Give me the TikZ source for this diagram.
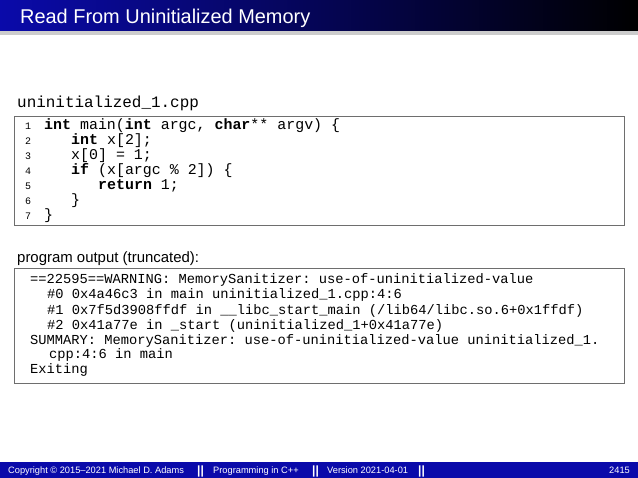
\documentclass[tikz,border=0pt]{standalone}
\usepackage{fontspec}
\setmainfont{Liberation Sans}
\setmonofont{Liberation Mono}
\definecolor{barblue}{RGB}{10,10,170}
\definecolor{boxgray}{RGB}{110,110,110}
\tikzset{
  codetxt/.style={anchor=base west,inner sep=0pt,font=\fontsize{15}{15}\ttfamily},
  outtxt/.style={anchor=base west,inner sep=0pt,font=\fontsize{13.8}{15}\ttfamily},
  lnum/.style={anchor=base west,inner sep=0pt,font=\fontsize{10}{10}\ttfamily},
  box/.style={draw=boxgray,line width=0.9bp},
  foot/.style={anchor=base west,inner sep=0pt,text=white,font=\fontsize{9.3}{10}\selectfont},
  sep/.style={anchor=base west,inner sep=0pt,text=white,font=\fontsize{12}{12}\bfseries}
}
\begin{document}
\begin{tikzpicture}[x=1bp,y=-1bp]
\useasboundingbox (0,0) rectangle (638,478);
% title bar
\fill[gray!40] (0,31) rectangle (638,35);
\shade[left color=barblue,right color=black] (0,0) rectangle (638,31);
\node[anchor=base west,inner sep=0pt,text=white,font=\fontsize{20}{22}\selectfont] (title) at (20,24) {Read From Uninitialized Memory};
% filename
\node[anchor=base west,inner sep=0pt,font=\fontsize{16}{18}\ttfamily] (fname) at (17,108) {uninitialized\_1.cpp};
\draw[box] (14,116) rectangle (624,225);
\foreach \i/\y in {1/130,2/145,3/160,4/175,5/190,6/205,7/220}{
  \node[lnum] (ln\i) at (25,\y) {\i};
}
\node[codetxt] (c1) at (44,130) {\textbf{int} main(\textbf{int} argc, \textbf{char}** argv) \{};
\node[codetxt] (c2) at (71,145) {\textbf{int} x[2];};
\node[codetxt] (c3) at (71,160) {x[0] = 1;};
\node[codetxt] (c4) at (71,175) {\textbf{if} (x[argc \% 2]) \{};
\node[codetxt] (c5) at (98,190) {\textbf{return} 1;};
\node[codetxt] (c6) at (71,205) {\}};
\node[codetxt] (c7) at (44,220) {\}};
% output
\node[anchor=base west,inner sep=0pt,font=\fontsize{15}{17}\selectfont] (plabel) at (17,262) {program output (truncated):};
\draw[box] (14,268) rectangle (624,383);
\node[outtxt] (o1) at (30,283) {==22595==WARNING: MemorySanitizer: use-of-uninitialized-value};
\node[outtxt] (o2) at (47,298) {\#0 0x4a46c3 in main uninitialized\_1.cpp:4:6};
\node[outtxt] (o3) at (47,314) {\#1 0x7f5d3908ffdf in \_\_libc\_start\_main (/lib64/libc.so.6+0x1ffdf)};
\node[outtxt] (o4) at (47,329) {\#2 0x41a77e in \_start (uninitialized\_1+0x41a77e)};
\node[outtxt] (o5) at (30,344) {SUMMARY: MemorySanitizer: use-of-uninitialized-value uninitialized\_1.};
\node[outtxt] (o6) at (49,358) {cpp:4:6 in main};
\node[outtxt] (o7) at (30,373) {Exiting};
% footer
\fill[barblue] (0,462) rectangle (638,478);
\node[foot] (f1) at (8,473.5) {Copyright © 2015–2021 Michael D. Adams};
\node[sep] (s1) at (197,474) {||};
\node[foot] (f2) at (213,473.5) {Programming in C++};
\node[sep] (s2) at (312,474) {||};
\node[foot] (f3) at (327,473.5) {Version 2021-04-01};
\node[sep] (s3) at (418,474) {||};
\node[foot,anchor=base east] (f4) at (630,473.5) {2415};
\end{tikzpicture}
\end{document}
